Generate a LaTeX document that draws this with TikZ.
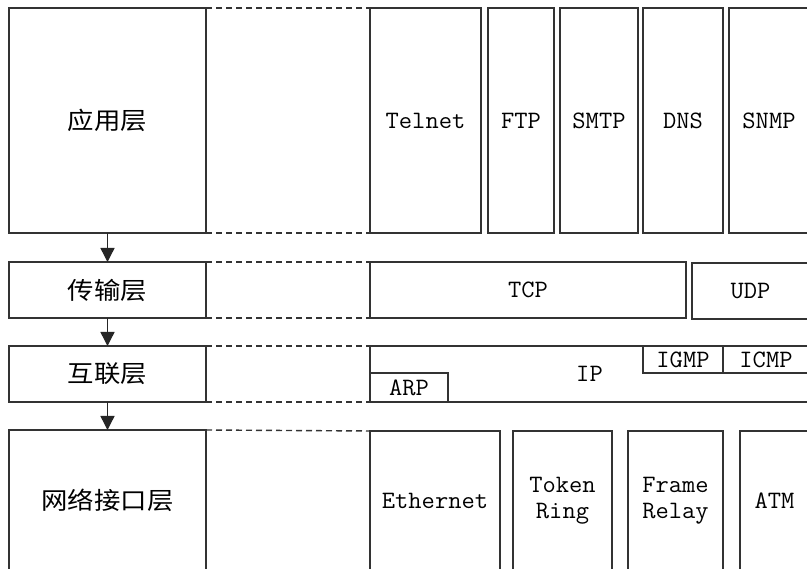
\documentclass[tikz,border=0pt]{standalone}
\usepackage{fontspec}
\newfontfamily\cjk[FakeStretch=1.1]{Noto Sans CJK SC}
\newfontfamily\latinmono[FakeStretch=1.03]{Latin Modern Mono}
\usetikzlibrary{arrows.meta}
\begin{document}
\begin{tikzpicture}[x=1pt,y=-1pt,
  box/.style={draw=black!80, line width=1.4pt, inner sep=0pt, outer sep=0pt,
    anchor=north west, align=center,
    font=\latinmono\fontsize{25}{26}\selectfont},
  layer/.style={box, font=\cjk\fontsize{24}{24}\selectfont},
  dashline/.style={draw=black!80, line width=1.4pt, dash pattern=on 6pt off 4pt},
  flow/.style={draw=black!85, line width=1.4pt, -{Triangle[width=14pt,length=14pt]}}]
\useasboundingbox (0,0) rectangle (807,569);
\clip (0,0) rectangle (807,569);
\fill[white] (0,0) rectangle (807,569);
% application layer
\node[layer, minimum width=197pt, minimum height=225pt] (app) at (9,8) {应用层};
\node[box, minimum width=111pt, minimum height=225pt] (telnet) at (370,8) {Telnet};
\node[box, minimum width=66pt, minimum height=225pt] (ftp) at (488,8) {FTP};
\node[box, minimum width=78pt, minimum height=225pt] (smtp) at (560,8) {SMTP};
\node[box, minimum width=80pt, minimum height=225pt] (dns) at (643,8) {DNS};
\node[box, minimum width=80pt, minimum height=225pt] (snmp) at (729,8) {SNMP};
% transport layer
\node[layer, minimum width=197pt, minimum height=56pt] (trans) at (9,262) {传输层};
\node[box, minimum width=316pt, minimum height=56pt] (tcp) at (370,262) {TCP};
\node[box, minimum width=117pt, minimum height=56pt] (udp) at (692,263) {UDP};
% internet layer
\node[layer, minimum width=197pt, minimum height=56pt] (inet) at (9,346) {互联层};
\node[box, minimum width=439pt, minimum height=56pt] (ip) at (370,346) {IP};
\node[box, minimum width=78pt, minimum height=29pt] (arp) at (370,373) {ARP};
\node[box, minimum width=80pt, minimum height=27pt] (igmp) at (643,346) {IGMP};
\node[box, minimum width=86pt, minimum height=27pt] (icmp) at (723,346) {ICMP};
% network interface layer
\node[layer, minimum width=197pt, minimum height=141pt] (net) at (9,430) {网络接口层};
\node[box, minimum width=130pt, minimum height=140pt] (eth) at (370,431) {Ethernet};
\node[box, minimum width=99pt, minimum height=140pt] (token) at (513,431) {Token\\Ring};
\node[box, minimum width=95pt, minimum height=140pt] (frame) at (628,431) {Frame\\Relay};
\node[box, minimum width=69pt, minimum height=140pt] (atm) at (740,431) {ATM};
% dashed links
\draw[dashline] (app.north east) -- (telnet.north west);
\draw[dashline] (app.south east) -- (telnet.south west);
\draw[dashline] (trans.north east) -- (tcp.north west);
\draw[dashline] (trans.south east) -- (tcp.south west);
\draw[dashline] (inet.north east) -- (ip.north west);
\draw[dashline] (inet.south east) -- (ip.south west);
\draw[dashline] (net.north east) -- (eth.north west);
% arrows
\draw[flow] (app.south) -- (trans.north);
\draw[flow] (trans.south) -- (inet.north);
\draw[flow] (inet.south) -- (net.north);
\end{tikzpicture}
\end{document}
